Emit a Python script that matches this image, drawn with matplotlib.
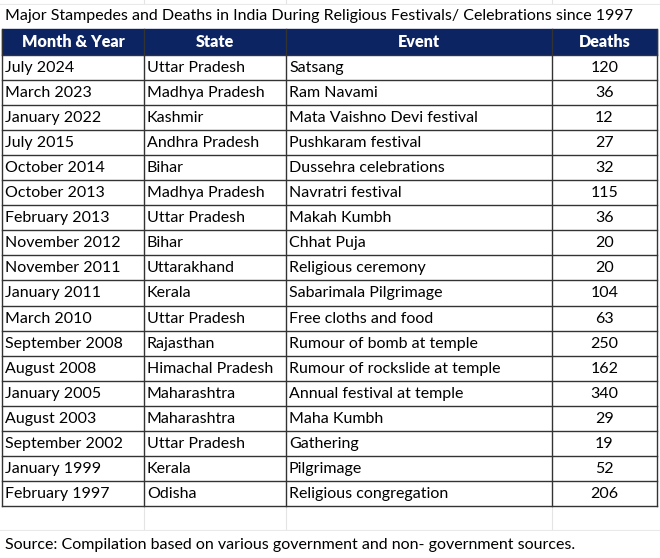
import matplotlib
matplotlib.use("Agg")
import matplotlib.pyplot as plt

title = "Major Stampedes and Deaths in India During Religious Festivals/ Celebrations since 1997"
source = "Source: Compilation based on various government and non- government sources."
headers = ["Month & Year", "State", "Event", "Deaths"]
months = ["July 2024", "March 2023", "January 2022", "July 2015", "October 2014",
          "October 2013", "February 2013", "November 2012", "November 2011",
          "January 2011", "March 2010", "September 2008", "August 2008",
          "January 2005", "August 2003", "September 2002", "January 1999", "February 1997"]
states = ["Uttar Pradesh", "Madhya Pradesh", "Kashmir", "Andhra Pradesh", "Bihar",
          "Madhya Pradesh", "Uttar Pradesh", "Bihar", "Uttarakhand", "Kerala",
          "Uttar Pradesh", "Rajasthan", "Himachal Pradesh", "Maharashtra",
          "Maharashtra", "Uttar Pradesh", "Kerala", "Odisha"]
events = ["Satsang", "Ram Navami", "Mata Vaishno Devi festival", "Pushkaram festival",
          "Dussehra celebrations", "Navratri festival", "Makah Kumbh", "Chhat Puja",
          "Religious ceremony", "Sabarimala Pilgrimage", "Free cloths and food",
          "Rumour of bomb at temple", "Rumour of rockslide at temple",
          "Annual festival at temple", "Maha Kumbh", "Gathering", "Pilgrimage",
          "Religious congregation"]
deaths = [120, 36, 12, 27, 32, 115, 36, 20, 20, 104, 63, 250, 162, 340, 29, 19, 52, 206]

FONT = "Lato"
FS = 11.5
HFS = 11.6
W, H = 660, 558
fig = plt.figure(figsize=(W / 100, H / 100), dpi=100)
ax = fig.add_axes([0, 0, 1, 1])
ax.set_xlim(0, W)
ax.set_ylim(H, 0)
ax.axis("off")

cols = [2, 144, 286, 552, 657]
head_top, head_bot = 29, 54.5
row_h = 25.1
n = len(months)
table_bot = head_bot + row_h * n

# faint spreadsheet gridlines
for x in cols[1:4]:
    ax.plot([x, x], [0, H], color="#e4e4e4", lw=0.8, zorder=0)
for y in [4, 530]:
    ax.plot([0, W], [y, y], color="#e4e4e4", lw=0.8, zorder=0)
ax.add_patch(plt.Rectangle((0, 5), W, 23, color="white", zorder=0.5))
ax.add_patch(plt.Rectangle((0, 531), W, 27, color="white", zorder=0.5))

# header
ax.add_patch(plt.Rectangle((cols[0], head_top), cols[-1] - cols[0], head_bot - head_top,
                           color="#0c2461", zorder=1))
for i, h in enumerate(headers):
    ax.text((cols[i] + cols[i + 1]) / 2, (head_top + head_bot) / 2 + 0.5, h, color="white",
            fontsize=HFS, fontweight="heavy", ha="center", va="center", family=FONT, zorder=3)

# body
ax.add_patch(plt.Rectangle((cols[0], head_bot), cols[-1] - cols[0], table_bot - head_bot,
                           facecolor="white", edgecolor="none", zorder=1))
for r in range(n + 1):
    y = head_bot + r * row_h
    ax.plot([cols[0], cols[-1]], [y, y], color="#333333", lw=1.0, zorder=2)
for x in cols:
    ax.plot([x, x], [head_top, table_bot], color="#333333", lw=1.0, zorder=2)

for r in range(n):
    yc = head_bot + (r + 0.5) * row_h + 0.5
    ax.text(cols[0] + 3, yc, months[r], fontsize=FS, va="center", ha="left", family=FONT, zorder=3)
    ax.text(cols[1] + 3, yc, states[r], fontsize=FS, va="center", ha="left", family=FONT, zorder=3)
    ax.text(cols[2] + 3, yc, events[r], fontsize=FS, va="center", ha="left", family=FONT, zorder=3)
    ax.text((cols[3] + cols[4]) / 2, yc, str(deaths[r]), fontsize=FS, va="center", ha="center",
            family=FONT, zorder=3)

ax.text(5, 16, title, fontsize=FS, va="center", ha="left", family=FONT, zorder=3)
ax.text(5, 545, source, fontsize=FS, va="center", ha="left", family=FONT, zorder=3)

fig.savefig("out.png", dpi=100)
